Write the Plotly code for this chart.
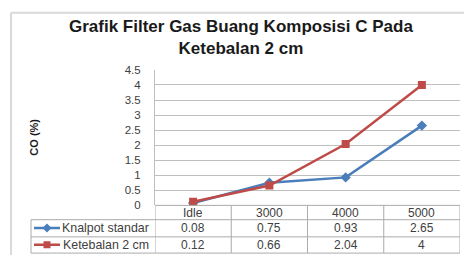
import plotly.graph_objects as go

# ---- data ----
categories = ["Idle", "3000", "4000", "5000"]
series_names = ["Knalpot standar", "Ketebalan 2 cm"]
knalpot_standar = [0.08, 0.75, 0.93, 2.65]
ketebalan_2cm = [0.12, 0.66, 2.04, 4]
y_ticks = [0, 0.5, 1, 1.5, 2, 2.5, 3, 3.5, 4, 4.5]
title_lines = ["Grafik Filter Gas Buang Komposisi C Pada", "Ketebalan 2 cm"]
y_title = "CO (%)"

# ---- styling ----
W, H = 464, 261
FONT = "Arial, Liberation Sans, sans-serif"
BLUE = "#4A7EBB"
RED = "#BE4B48"
GRID = "#BFBFBF"
TABLE_LINE = "#ABABAB"
TEXT = "#404040"


def px(x):
    return x / W


def py(y):
    return 1 - y / H


def fmt(v):
    return f"{v:g}"


series = [knalpot_standar, ketebalan_2cm]
colors = [BLUE, RED]
symbols = ["diamond", "square"]
msizes = [8, 8]

fig = go.Figure()

for name, vals, c, s, ms in zip(series_names, series, colors, symbols, msizes):
    fig.add_trace(go.Scatter(
        x=list(range(len(categories))), y=vals, name=name, mode="lines+markers",
        line=dict(color=c, width=2.5),
        marker=dict(symbol=s, size=ms, color=c),
        text=categories, showlegend=False, xaxis="x", yaxis="y",
    ))

# legend swatches in the table's first column
row_centers = [1.5, 0.5]
for name, c, s, ms, rc in zip(series_names, colors, symbols, msizes, row_centers):
    fig.add_trace(go.Scatter(
        x=[0, 1], y=[rc, rc], mode="lines", line=dict(color=c, width=2.5),
        showlegend=False, xaxis="x2", yaxis="y2", hoverinfo="skip",
    ))
    fig.add_trace(go.Scatter(
        x=[0.5], y=[rc], mode="markers", marker=dict(symbol=s, size=ms - 1, color=c),
        showlegend=False, xaxis="x2", yaxis="y2", hoverinfo="skip",
    ))

PL, PR, PT, PB = 155, 460, 67, 209
ROWS = [209, 224, 242, 259]
TL = 31

shapes = []
# outer chart border (left and top edges; right/bottom fall outside the view)
shapes.append(dict(type="line", xref="paper", yref="paper",
                   x0=px(11), x1=px(11), y0=0, y1=py(7),
                   line=dict(color="#D9D9D9", width=2)))
shapes.append(dict(type="line", xref="paper", yref="paper",
                   x0=px(11), x1=1, y0=py(7), y1=py(7),
                   line=dict(color="#D9D9D9", width=2)))
# table horizontal lines
for i, yy in enumerate(ROWS):
    x0 = PL if i == 0 else TL
    shapes.append(dict(type="line", xref="paper", yref="paper",
                       x0=px(x0), x1=px(PR), y0=py(yy), y1=py(yy),
                       line=dict(color=TABLE_LINE, width=1)))
# table vertical lines (category boundaries through x-axis scale)
for k in range(len(categories) + 1):
    shapes.append(dict(type="line", xref="x", yref="paper",
                       x0=k - 0.5, x1=k - 0.5, y0=py(ROWS[0]), y1=py(ROWS[-1]),
                       line=dict(color=TABLE_LINE, width=1)))
shapes.append(dict(type="line", xref="paper", yref="paper",
                   x0=px(TL), x1=px(TL), y0=py(ROWS[1]), y1=py(ROWS[-1]),
                   line=dict(color=TABLE_LINE, width=1)))

annotations = []
# title (two lines in one text block)
annotations.append(dict(text="<b>" + "<br>".join(title_lines) + "</b>",
                        xref="paper", yref="paper",
                        x=px(241), y=py(33), xanchor="center", yanchor="middle",
                        showarrow=False, align="center",
                        font=dict(family=FONT, size=17, color="#1A1A1A")))
# y axis title
annotations.append(dict(text=f"<b>{y_title}</b>", xref="paper", yref="paper",
                        x=px(34), y=py(138), xanchor="center", yanchor="middle",
                        textangle=-90, showarrow=False,
                        font=dict(family=FONT, size=11, color="#1A1A1A")))
# header row: categories
for i, cat in enumerate(categories):
    annotations.append(dict(text=cat, xref="x", yref="paper",
                            x=i, y=py(217), xanchor="center",
                            yanchor="middle", showarrow=False,
                            font=dict(family=FONT, size=12, color=TEXT)))
# data rows
for r, (name, vals) in enumerate(zip(series_names, series)):
    ymid = (ROWS[r + 1] + ROWS[r + 2]) / 2
    annotations.append(dict(text=name, xref="paper", yref="paper",
                            x=px(151), y=py(ymid), xanchor="right", yanchor="middle",
                            showarrow=False, font=dict(family=FONT, size=12.4, color=TEXT)))
    for i, v in enumerate(vals):
        annotations.append(dict(text=fmt(v), xref="x", yref="paper",
                                x=i, y=py(ymid), xanchor="center", yanchor="middle",
                                showarrow=False, font=dict(family=FONT, size=12, color=TEXT)))

fig.update_layout(
    width=W, height=H,
    margin=dict(l=0, r=0, t=0, b=0),
    paper_bgcolor="white", plot_bgcolor="white",
    font=dict(family=FONT, size=11, color=TEXT),
    xaxis=dict(domain=[px(PL), px(PR)], range=[-0.5, len(categories) - 0.5],
               tickvals=list(range(len(categories))), ticktext=categories,
               showticklabels=False, showgrid=False, zeroline=False, showline=False,
               fixedrange=True),
    yaxis=dict(domain=[py(PB), py(PT)], range=[0, 4.5], tickvals=y_ticks,
               ticktext=[fmt(t) for t in y_ticks], showgrid=True, gridcolor=GRID,
               gridwidth=1, zeroline=False, showline=True, linecolor=GRID, linewidth=1,
               ticks="", ticklabelstandoff=11,
               tickfont=dict(family=FONT, size=11.5, color=TEXT)),
    xaxis2=dict(domain=[px(34), px(60)], range=[0, 1], visible=False, anchor="y2"),
    yaxis2=dict(domain=[py(ROWS[-1]), py(ROWS[1])], range=[0, 2], visible=False, anchor="x2"),
    shapes=shapes,
    annotations=annotations,
)

fig.write_html(
    "out.html", config={"displayModeBar": False},
    post_script=("document.documentElement.style.margin='0';"
                 "document.documentElement.style.padding='0';"
                 "document.body.style.margin='0';document.body.style.padding='0';"
                 "document.body.style.overflow='hidden';"),
)
